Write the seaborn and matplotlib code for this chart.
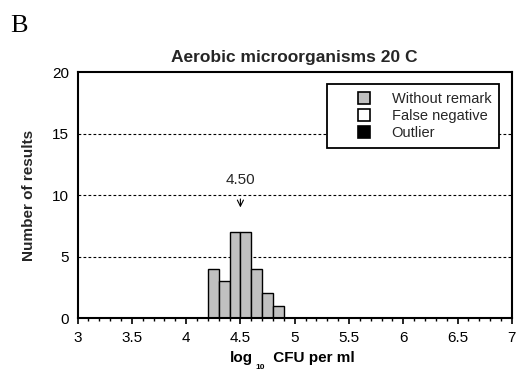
import numpy as np
import pandas as pd
import matplotlib
matplotlib.use("Agg")
import matplotlib.pyplot as plt
from matplotlib.lines import Line2D
from matplotlib.ticker import MultipleLocator
import seaborn as sns

# ---- data ----
bin_left = [4.2, 4.3, 4.4, 4.5, 4.6, 4.7, 4.8]
bin_width = 0.1
counts = [4, 3, 7, 7, 4, 2, 1]
median_value = 4.50
median_label = "4.50"
legend_labels = ["Without remark", "False negative", "Outlier"]
legend_colors = ["#c0c0c0", "#ffffff", "#000000"]
x_ticks = [3, 3.5, 4, 4.5, 5, 5.5, 6, 6.5, 7]
x_tick_labels = ["3", "3.5", "4", "4.5", "5", "5.5", "6", "6.5", "7"]
y_ticks = [0, 5, 10, 15, 20]
grid_levels = [5, 10, 15]

sns.set_theme(style="white")
plt.rcParams["font.family"] = ["Liberation Sans", "DejaVu Sans"]

df = pd.DataFrame({"center": np.array(bin_left) + bin_width / 2, "count": counts})
edges = list(bin_left) + [bin_left[-1] + bin_width]

fig = plt.figure(figsize=(5.17, 3.72), dpi=100)
ax = fig.add_axes([0.150, 0.145, 0.840, 0.661])

for g in grid_levels:
    ax.axhline(g, color="black", lw=0.8, ls=(0, (2.5, 2.0)), zorder=0.5)

sns.histplot(data=df, x="center", weights="count", bins=edges, ax=ax,
             color="#c0c0c0", edgecolor="black", linewidth=1.0, alpha=1.0, zorder=2)

ax.set_xlim(3, 7)
ax.set_ylim(0, 20)
ax.set_xticks(x_ticks)
ax.set_xticklabels(x_tick_labels)
ax.xaxis.set_minor_locator(MultipleLocator(0.1))
ax.set_yticks(y_ticks)
ax.tick_params(axis="x", which="major", direction="out", length=4, width=1.2,
               labelsize=11, pad=5, bottom=True, colors="black")
ax.tick_params(axis="x", which="minor", direction="out", length=2.5, width=1.0,
               bottom=True, colors="black")
ax.tick_params(axis="y", length=0, labelsize=11, pad=6, colors="black")
for s in ax.spines.values():
    s.set_color("black")
    s.set_linewidth(1.5)

ax.set_title("Aerobic microorganisms 20 C", fontsize=12.5, fontweight="bold", pad=7)
ax.set_ylabel("Number of results", fontsize=11, fontweight="bold", labelpad=12)
ax.set_xlabel("")

# x-axis label with a low, small subscript
t_log = fig.text(230 / 517, 1 - 362 / 372, "log", fontsize=11, fontweight="bold",
                 ha="left", va="baseline", color="black")
ax.annotate("10", xy=(1, 0), xycoords=t_log, xytext=(1.5, -3.0),
            textcoords="offset points", fontsize=6, fontweight="bold",
            ha="left", va="baseline", color="black")
ax.annotate(" CFU per ml", xy=(1, 0), xycoords=t_log, xytext=(11.5, 0),
            textcoords="offset points", fontsize=11, fontweight="bold",
            ha="left", va="bottom", color="black")

ax.annotate(median_label, xy=(median_value, 9.0), xytext=(median_value, 11.2),
            ha="center", va="center", fontsize=11,
            arrowprops=dict(arrowstyle="->", lw=0.8, color="black",
                            shrinkA=6, shrinkB=0))

handles = [Line2D([0], [0], marker="s", ls="none", markersize=8,
                  markerfacecolor=c, markeredgecolor="black", markeredgewidth=1.2)
           for c in legend_colors]
leg = ax.legend(handles, legend_labels, loc="upper right", bbox_to_anchor=(0.971, 0.951),
                borderaxespad=0, frameon=True, fancybox=False, fontsize=10.5,
                handlelength=4.0, handletextpad=-0.1, labelspacing=0.2,
                borderpad=0.55)
leg.get_frame().set_edgecolor("black")
leg.get_frame().set_linewidth(1.3)
leg.get_frame().set_facecolor("white")
leg.get_frame().set_alpha(1.0)
leg.set_zorder(5)

fig.text(0.019, 1 - 32 / 372, "B", family=["Liberation Serif", "DejaVu Serif"], fontsize=19,
         ha="left", va="baseline", color="black")

fig.savefig("out.png", dpi=100)
